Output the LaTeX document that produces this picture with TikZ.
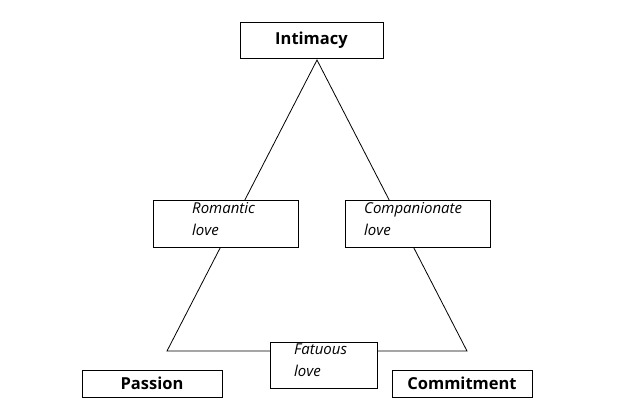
\documentclass[tikz,border=0pt]{standalone}
\usepackage{fontspec}
\setmainfont{Open Sans}
\begin{document}
\begin{tikzpicture}[x=1pt,y=-1pt,
  box/.style={draw,line width=0.8pt,fill=white,inner sep=0pt},
  lbl/.style={font=\fontsize{15}{22}\selectfont\itshape,align=left,anchor=north west,inner sep=0pt},
  corner/.style={font=\fontsize{16.5}{20}\selectfont\bfseries}]
\useasboundingbox (0,0) rectangle (640,420);
\coordinate (apex) at (317,60);
\coordinate (bl) at (167,351);
\coordinate (br) at (467,351);
\draw[line width=0.8pt] (bl) -- (apex) -- (br) -- cycle;
\node[box,minimum width=143,minimum height=36,corner] (int) at (311.5,40) {Intimacy};
\node[box,minimum width=145,minimum height=47] (rom) at (225.5,223.5) {};
\node[box,minimum width=145,minimum height=47] (com) at (417.5,223.5) {};
\node[box,minimum width=107,minimum height=46] (fat) at (323.5,365) {};
\node[box,minimum width=140,minimum height=27,corner] (pas) at (152,383.5) {Passion};
\node[box,minimum width=140,minimum height=27,corner] (cmt) at (462,383.5) {Commitment};
\node[lbl] (romt) at (192,202) {Romantic\\love};
\node[lbl] (comt) at (364,202) {Companionate\\love};
\node[lbl] (fatt) at (294,344) {Fatuous\\love};
\end{tikzpicture}
\end{document}
